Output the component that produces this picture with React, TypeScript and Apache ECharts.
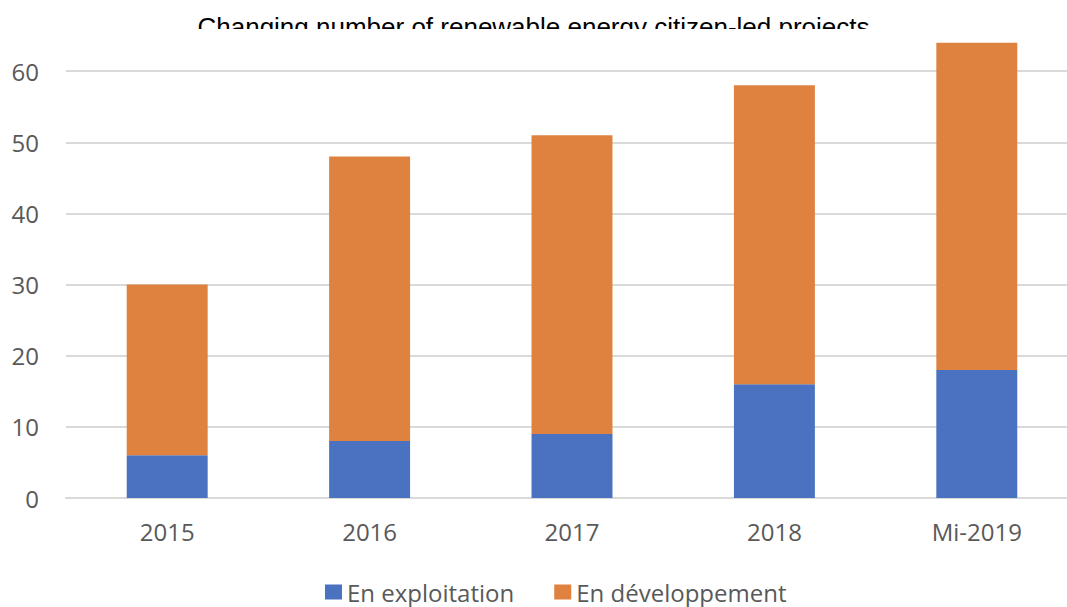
import React, { useEffect, useRef } from "react";
import * as echarts from "echarts";

const categories = ["2015", "2016", "2017", "2018", "Mi-2019"];
const enExploitation = [6, 8, 9, 16, 18];
const enDeveloppement = [24, 40, 42, 42, 46];
const seriesNames = ["En exploitation", "En développement"];
const titleText = "Changing number of renewable energy citizen-led projects";
const yTicks = { min: 0, max: 70, interval: 10 };

export default function App() {
  const ref = useRef<HTMLDivElement>(null);
  useEffect(() => {
    if (!ref.current) return;
    const chart = echarts.init(ref.current, null, { renderer: "svg" });
    const font = "'Open Sans', 'Noto Sans', sans-serif";
    chart.setOption({
      animation: false,
      backgroundColor: "#ffffff",
      grid: {
        left: 66,
        width: 1012,
        top: 0,
        bottom: 109,
        containLabel: false,
        outerBoundsMode: "none",
      },
      xAxis: {
        type: "category",
        data: categories,
        axisTick: { show: false },
        axisLine: { show: true, lineStyle: { color: "#d9d9d9", width: 2 } },
        axisLabel: { color: "#595959", fontSize: 24, fontFamily: font, margin: 21 },
      },
      yAxis: {
        type: "value",
        min: yTicks.min,
        max: yTicks.max,
        interval: yTicks.interval,
        axisLine: { show: false },
        axisTick: { show: false },
        splitLine: { lineStyle: { color: "#d9d9d9", width: 2 } },
        axisLabel: {
          color: "#595959",
          fontSize: 24,
          fontFamily: font,
          margin: 27,
          showMaxLabel: false,
        },
      },
      legend: {
        left: 325,
        top: 580,
        padding: 0,
        itemWidth: 17,
        itemHeight: 15,
        itemGap: 40,
        icon: "rect",
        textStyle: { color: "#595959", fontSize: 24, fontFamily: font, padding: [0, 0, 0, 0] },
        data: seriesNames,
      },
      series: [
        {
          name: seriesNames[0],
          type: "bar",
          stack: "total",
          barWidth: "40%",
          data: enExploitation,
          itemStyle: { color: "#4a72c1" },
        },
        {
          name: seriesNames[1],
          type: "bar",
          stack: "total",
          barWidth: "40%",
          data: enDeveloppement,
          itemStyle: { color: "#e0823f" },
        },
      ],
      graphic: [
        {
          type: "text",
          left: "center",
          top: 14,
          z: 50,
          style: {
            text: titleText,
            fill: "#000000",
            font: "26px 'Liberation Sans', Arial, sans-serif",
          },
        },
        {
          type: "rect",
          z: 100,
          shape: { x: 0, y: 29, width: 1067, height: 12 },
          style: { fill: "#ffffff" },
        },
        {
          type: "rect",
          z: 100,
          shape: { x: 0, y: -2, width: 1067, height: 3.5 },
          style: { fill: "#ffffff" },
        },
      ],
    });
    return () => chart.dispose();
  }, []);
  return (
    <div
      ref={ref}
      style={{ position: "fixed", left: 0, top: 0, width: 1067, height: 607 }}
    />
  );
}
